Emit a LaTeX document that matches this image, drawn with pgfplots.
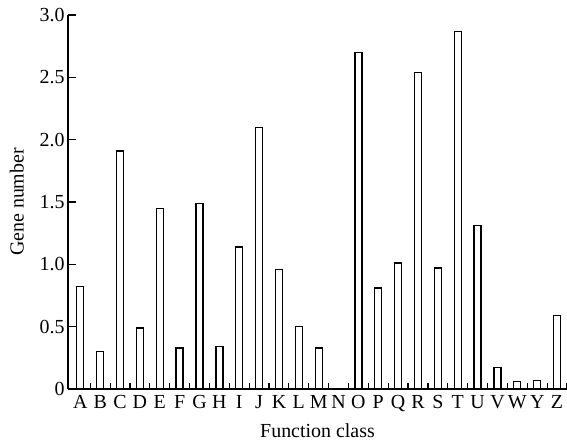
\documentclass[border=0pt]{standalone}
\usepackage{pgfplots}
\pgfplotsset{compat=1.18}
\usepackage{fontspec}
\setmainfont{Liberation Serif}
\pgfplotstableread{
x val
0 0.82
1 0.30
2 1.91
3 0.49
4 1.45
5 0.33
6 1.49
7 0.34
8 1.14
9 2.10
10 0.96
11 0.50
12 0.33
13 0
14 2.70
15 0.81
16 1.01
17 2.54
18 0.97
19 2.87
20 1.31
21 0.17
22 0.06
23 0.07
24 0.59
}\datatable
\begin{document}
\begin{tikzpicture}
\begin{axis}[
  scale only axis,
  width=499bp, height=374bp,
  xmin=-0.62, xmax=24.5,
  ymin=0, ymax=3,
  axis x line*=bottom,
  axis y line*=left,
  axis line style={line width=1.4bp},
  ybar,
  bar width=7bp,
  xtick={0,...,24},
  xticklabels={A,B,C,D,E,F,G,H,I,J,K,L,M,N,O,P,Q,R,S,T,U,V,W,Y,Z},
  minor xtick={0.5,1.5,...,24.5},
  major x tick style={draw=none},
  minor x tick style={draw=black, line width=1.2bp},
  minor tick length=6bp,
  ytick={0,0.5,...,3.0},
  yticklabels={0,0.5,1.0,1.5,2.0,2.5,3.0},
  major y tick style={line width=1.2bp, black},
  major tick length=8bp,
  tick align=inside,
  ticklabel style={font=\fontsize{20}{23}\selectfont},
  /pgf/number format/assume math mode=true,
  xticklabel style={yshift=-3bp},
  yticklabel style={xshift=0bp},
  label style={font=\fontsize{20}{23}\selectfont},
  xlabel={Function class},
  ylabel={Gene number},
  xlabel style={yshift=-5bp},
  ylabel style={yshift=9bp},
]
\addplot[draw=black, fill=white, line width=1.3bp] table[x=x, y=val] {\datatable};
\end{axis}
\pgfresetboundingbox
\path (-68bp,-54bp) rectangle (499bp,389bp);
\end{tikzpicture}
\end{document}
